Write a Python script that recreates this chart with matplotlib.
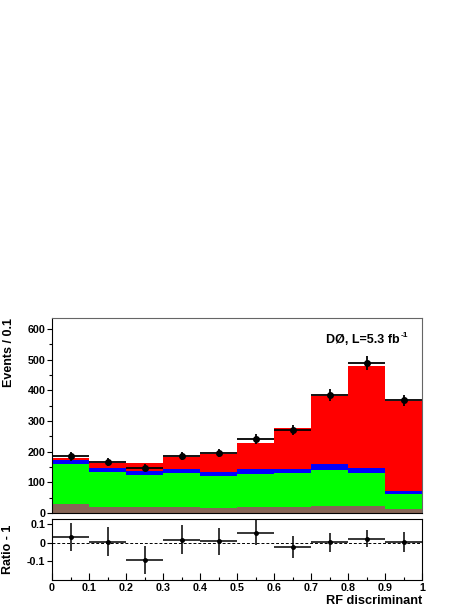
import numpy as np
import matplotlib
matplotlib.use('Agg')
import matplotlib.pyplot as plt

plt.rcParams['font.family'] = 'Liberation Sans'
plt.rcParams['font.weight'] = 'bold'

# bin edges of the RF discriminant
edges = np.linspace(0, 1, 11)
centres = 0.5 * (edges[:-1] + edges[1:])

# stacked MC contributions (cumulative tops)
brown_top = [28, 20, 20, 20, 16, 18, 20, 24, 22, 14]
green_top = [161, 135, 123, 129, 122, 126, 129, 141, 129, 61]
blue_top = [174, 148, 137, 142, 135, 142, 145, 160, 148, 71]
red_top = [180, 164, 163, 183, 194, 229, 276, 383, 479, 366]

# data
data_y = [185, 166, 148, 186, 196, 241, 270, 385, 490, 367]
data_err = [14, 13, 12, 14, 14, 16, 16, 20, 22, 19]

# ratio panel
ratio = [0.032, 0.007, -0.092, 0.018, 0.009, 0.054, -0.022, 0.004, 0.023, 0.004]
ratio_err = [0.077, 0.078, 0.075, 0.076, 0.073, 0.068, 0.061, 0.051, 0.047, 0.053]

c_brown = '#876657'
c_green = '#00ff00'
c_blue = '#0000ff'
c_red = '#ff0000'

W, H = 469, 607
fig = plt.figure(figsize=(W / 100., H / 100.), dpi=100)

ax = fig.add_axes([52. / W, (H - 513.) / H, 370. / W, 195. / H])
axr = fig.add_axes([52. / W, (H - 580.) / H, 370. / W, 60.7 / H])

# stacked histogram, drawn from the top layer down
layers = [(red_top, c_red), (blue_top, c_blue), (green_top, c_green), (brown_top, c_brown)]
for vals, col in layers:
    ax.stairs(vals, edges, baseline=0, fill=True, color=col, lw=0)

ax.errorbar(centres, data_y, yerr=data_err, xerr=0.05, fmt='o', color='k',
            ms=4, lw=1.3, capsize=0)

ax.set_xlim(0, 1)
ax.set_ylim(0, 636)
ax.set_yticks(np.arange(0, 601, 100))
ax.set_yticks(np.arange(0, 636, 50), minor=True)
ax.tick_params(axis='y', which='major', direction='out', length=3.5, width=0.8,
               pad=1.2, labelsize=7.7)
ax.tick_params(axis='y', which='minor', direction='out', length=2, width=0.8)
ax.tick_params(axis='x', which='both', bottom=False, labelbottom=False)
ax.set_ylabel('Events / 0.1', fontsize=9, fontweight='bold', loc='top')
ax.yaxis.set_label_coords(-0.1, 1.0)
lumi = ax.text(0.74, 555, 'DØ, L=5.3 fb', fontsize=9, fontweight='bold')
ax.annotate('-1', xy=(1, 1), xycoords=lumi, xytext=(1, 1), textcoords='offset points',
            fontsize=6, fontweight='bold', va='top', ha='left')
for s in ['top', 'right']:
    ax.spines[s].set_color('#666666')
for s in ax.spines.values():
    s.set_linewidth(0.8)

# ratio panel
axr.axhline(0, color='k', ls='--', lw=0.7, dashes=(3, 2))
axr.errorbar(centres, ratio, yerr=ratio_err, xerr=0.05, fmt='o', color='k',
             ms=2.5, lw=1.1, capsize=0)
axr.set_xlim(0, 1)
axr.set_ylim(-0.2, 0.127)
axr.set_yticks([-0.1, 0, 0.1])
axr.set_yticklabels(['-0.1', '0', '0.1'])
axr.set_xticks(np.arange(0, 1.01, 0.1))
axr.set_xticklabels(['0', '0.1', '0.2', '0.3', '0.4', '0.5', '0.6', '0.7', '0.8', '0.9', '1'])
axr.set_xticks(np.arange(0, 1.01, 0.05), minor=True)
axr.tick_params(axis='x', which='major', direction='in', length=5, width=0.8,
                pad=2, labelsize=7.7)
axr.tick_params(axis='x', which='minor', direction='in', length=2.5, width=0.8)
axr.tick_params(axis='y', which='major', direction='out', length=3.5, width=0.8,
                pad=1.2, labelsize=7.7)
axr.set_ylabel('Ratio - 1', fontsize=9, fontweight='bold')
axr.yaxis.set_label_coords(-0.103, 0.5)
axr.set_xlabel('RF discriminant', fontsize=9.2, fontweight='bold', loc='right')
axr.xaxis.set_label_coords(1.0, -0.24)
for s in axr.spines.values():
    s.set_linewidth(0.8)

fig.savefig('out.png', dpi=100)
